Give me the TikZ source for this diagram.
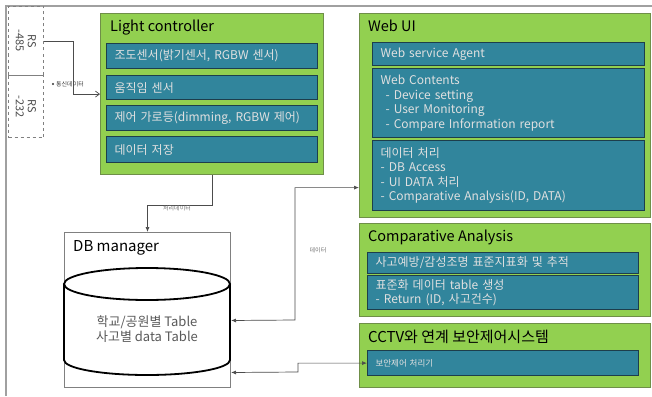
\documentclass[tikz,border=0pt]{standalone}
\usepackage{fontspec}
\setmainfont{Noto Sans CJK KR}
\usetikzlibrary{arrows.meta,calc}
\definecolor{grn}{HTML}{92D050}
\definecolor{grnedge}{HTML}{6F8F48}
\definecolor{tealfill}{HTML}{31859C}
\definecolor{tealedge}{HTML}{1D3E4C}
\definecolor{framegray}{HTML}{A0A0A0}
\begin{document}
\begin{tikzpicture}[x=1pt,y=-1pt,
  panel/.style={draw=grnedge, fill=grn, line width=1.2pt, anchor=north west, inner sep=0pt},
  item/.style={draw=tealedge, fill=tealfill, line width=1.2pt, anchor=north west,
    inner xsep=8pt, inner ysep=0pt, align=left, text=white!88!black,
    font=\fontsize{12}{14.5}\selectfont},
  ptitle/.style={anchor=base west, inner sep=0pt, font=\fontsize{14.5}{17}\selectfont},
  tiny/.style={font=\fontsize{6}{7}\selectfont, text=black!55, inner sep=0pt},
  rsbox/.style={draw=gray, dashed, line width=1pt, anchor=north west, inner sep=0pt},
  rstext/.style={rotate=-90, align=center, font=\fontsize{11}{12}\selectfont, text=black!70},
  link/.style={draw=black!70, line width=0.7pt},
  tip/.style={-{Latex[length=5pt,width=4pt]}},
  twotip/.style={{Latex[length=5pt,width=4pt]}-{Latex[length=5pt,width=4pt]}}
]
\useasboundingbox (0,0) rectangle (652,396);
\fill[white] (0,0) rectangle (652,396);

% outer frame
\draw[framegray, line width=1.5pt] (6,396) -- (6,6) -- (652,6);

% serial ports
\node[rsbox, minimum width=35pt, minimum height=69pt] (rs485) at (8,6) {};
\node[rstext] (rs485t) at (rs485.center) {RS\\-485};
\node[rsbox, minimum width=35pt, minimum height=62pt] (rs232) at (8,75) {};
\node[rstext] (rs232t) at (rs232.center) {RS\\-232};

% Light controller
\node[panel, minimum width=223pt, minimum height=161pt] (lc) at (100,13) {};
\node[ptitle] (lct) at (110,31) {Light controller};
\node[item, text width=195pt, minimum height=25pt] (lc1) at (106,43) {조도센서(밝기센서, RGBW 센서)};
\node[item, text width=195pt, minimum height=24pt] (lc2) at (106,75) {움직임 센서};
\node[item, text width=195pt, minimum height=25pt] (lc3) at (106,105) {제어 가로등(dimming, RGBW 제어)};
\node[item, text width=195pt, minimum height=26pt] (lc4) at (106,136) {데이터 저장};

% Web UI
\node[panel, minimum width=291pt, minimum height=204pt] (web) at (359,13) {};
\node[ptitle] (webt) at (368,31) {Web UI};
\node[item, text width=256pt, minimum height=23pt] (web1) at (372,42) {Web service Agent};
\node[item, text width=256pt, minimum height=69pt] (web2) at (372,68)
  {Web Contents\\\hspace*{5pt}- Device setting\\\hspace*{5pt}- User Monitoring\\\hspace*{5pt}- Compare Information report};
\node[item, text width=256pt, minimum height=70pt] (web3) at (372,140)
  {데이터 처리\\- DB Access\\- UI DATA 처리\\- Comparative Analysis(ID, DATA)};

% Comparative Analysis
\node[panel, minimum width=291pt, minimum height=93pt] (cmp) at (359,223) {};
\node[ptitle] (cmpt) at (368,241) {Comparative Analysis};
\node[item, text width=255pt, minimum height=21pt] (cmp1) at (367,252) {사고예방/감성조명 표준지표화 및 추적};
\node[item, text width=255pt, minimum height=34pt] (cmp2) at (367,275) {표준화 데이터 table 생성\\- Return (ID, 사고건수)};

% CCTV security control
\node[panel, minimum width=291pt, minimum height=64pt] (cctv) at (359,323) {};
\node[ptitle, font=\fontsize{15}{18}\selectfont] (cctvt) at (368,342) {CCTV와 연계 보안제어시스템};
\node[item, text width=255pt, minimum height=25pt, font=\fontsize{8.5}{10}\selectfont] (cctv1) at (367,350) {보안제어 처리기};

% DB manager
\node[draw=gray, line width=1pt, fill=white, anchor=north west, inner sep=0pt,
  minimum width=166pt, minimum height=155pt] (db) at (64,232) {};
\node[ptitle, font=\fontsize{15}{18}\selectfont] (dbtitle) at (73,251) {DB manager};
\draw[line width=1.8pt] (147,284) ellipse [x radius=83pt, y radius=16pt];
\draw[line width=1.8pt] (64,284) -- (64,360)
  arc[start angle=180, end angle=360, x radius=83pt, y radius=15pt] -- (230,284);
\node[align=center, font=\fontsize{13}{14.5}\selectfont, text=black!65] (dbtext) at (147,329)
  {학교/공원별 Table\\사고별 data Table};

% connectors
\draw[link, -{Straight Barb[length=4pt,width=6pt]}] (rs485.east) -- ++(29,0) |- (lc.west);
\fill[black!80] (53,84) circle (1.2pt);
\node[tiny, anchor=west, text=black!75] (commlbl) at (56,84) {통신데이터};

\draw[link, tip] (lc.south) -- ++(0,30) -| (db.north);
\node[tiny] (proclbl) at (177,208) {처리데이터};

\draw[link, twotip] ([yshift=-10.5pt]db.east) -- (295,320) |- ([yshift=-72pt]web.west);
\node[tiny] (datalbl) at (318,250) {데이터};

\draw[link, twotip] ([yshift=-62.5pt]db.east) -- (298,372) |- (cctv1.west);
\end{tikzpicture}
\end{document}
